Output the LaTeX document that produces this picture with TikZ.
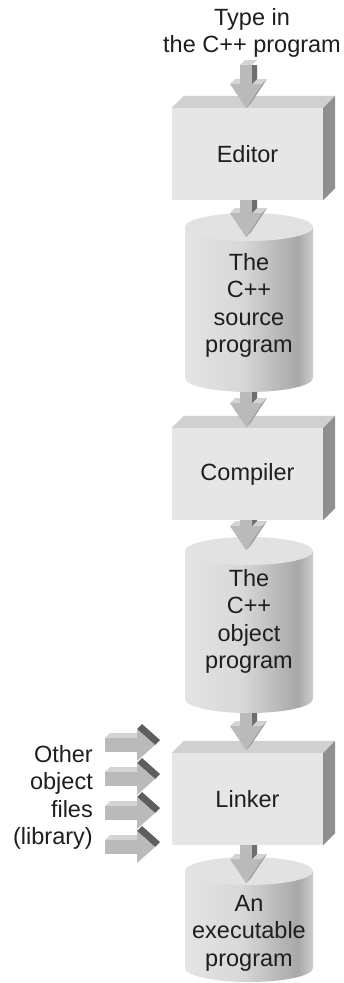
\documentclass[tikz,border=0pt]{standalone}
\usepackage{fontspec}
\setmainfont{Liberation Sans}
\usetikzlibrary{calc}
\definecolor{txt}{HTML}{1E1E1E}
\definecolor{frontc}{HTML}{E6E6E6}
\definecolor{topc}{HTML}{D0D0D0}
\definecolor{sidec}{HTML}{8F8F8F}
\definecolor{cylA}{HTML}{E4E4E4}
\definecolor{cylB}{HTML}{D8D8D8}
\definecolor{cylC}{HTML}{A8A8A8}
\definecolor{cylD}{HTML}{CDCDCD}
\definecolor{cyltopc}{HTML}{E2E2E2}
\definecolor{arrfrontc}{HTML}{BABABA}
\definecolor{arrtopc}{HTML}{D4D4D4}
\definecolor{arrsidec}{HTML}{6E6E6E}
\definecolor{arrmidc}{HTML}{9A9A9A}
\definecolor{arrdarkc}{HTML}{5E5E5E}
\pgfdeclarehorizontalshading{cylshade}{100bp}{color(0bp)=(cylA); color(25bp)=(cylA); color(47bp)=(cylB); color(69bp)=(cylC); color(75bp)=(cylD); color(100bp)=(cylD)}
\tikzset{
  lbl/.style={font=\fontsize{23.5}{27.5}\selectfont, text=txt, inner sep=0pt, align=center},
  boxfront/.style={lbl, fill=frontc, minimum width=151pt, minimum height=92pt},
  boxtop/.style={fill=topc},
  boxside/.style={fill=sidec},
  cylbody/.style={shading=cylshade},
  cyltop/.style={fill=cyltopc},
  arrfront/.style={fill=arrfrontc},
  arrtop/.style={fill=arrtopc},
  arrside/.style={fill=arrsidec},
  arrmid/.style={fill=arrmidc},
  arrdark/.style={fill=arrdarkc}
}
\newcommand{\boxfaces}[1]{%
  \fill[boxtop] (#1.north west) -- ++(12,12) -- ($(#1.north east)+(12,12)$) -- (#1.north east) -- cycle;
  \fill[boxside] (#1.north east) -- ++(12,12) -- ($(#1.south east)+(12,12)$) -- (#1.south east) -- cycle;}
\newcommand{\cylshape}[2]{% top centre y, bottom centre y (page px)
  \shade[cylbody] (185,-#1) -- (185,-#2) arc[start angle=180, end angle=360, x radius=64, y radius=14] -- (313,-#1) -- cycle;
  \fill[cyltop] (249,-#1) ellipse [x radius=64, y radius=14];}
\newcommand{\blockdown}[2]{% start, tip (same x)
  \fill[arrtop] ($(#2)+(-16,24)$) -- ($(#2)+(-11,29)$) -- ($(#2)+(21,29)$) -- ($(#2)+(16,24)$) -- cycle;
  \fill[arrmid] ($(#2)+(16,24)$) -- ($(#2)+(21,29)$) -- ($(#2)+(5,5)$) -- (#2) -- cycle;
  \fill[arrside] ($(#1)+(6,0)$) -- ($(#1)+(11,0)$) -- ($(#2)+(11,29)$) -- ($(#2)+(6,24)$) -- cycle;
  \fill[arrfront] ($(#1)+(-6,0)$) rectangle ($(#2)+(6,24)$);
  \fill[arrfront] ($(#2)+(-16,24)$) -- ($(#2)+(16,24)$) -- (#2) -- cycle;}
\newcommand{\blockright}[2]{% start, tip
  \fill[arrtop] ($(#1)+(0,7)$) -- ($(#1)+(5,12)$) -- ($(#2)+(-13,12)$) -- ($(#2)+(-18,7)$) -- cycle;
  \fill[arrdark] ($(#2)+(-18,16)$) -- ($(#2)+(-13,21)$) -- ($(#2)+(5,5)$) -- (#2) -- cycle;
  \fill[arrfront] ($(#1)+(0,-7)$) rectangle ($(#2)+(-18,7)$);
  \fill[arrfront] ($(#2)+(-18,16)$) -- (#2) -- ($(#2)+(-18,-16)$) -- cycle;}
\begin{document}
\begin{tikzpicture}[x=1pt,y=1pt]
\useasboundingbox (0,0) rectangle (344,-983);
% input text
\node[lbl, anchor=north] (input) at (252,-8) {Type in\\the C++ program};
\coordinate (a0s) at (246,-65);
\coordinate (a0t) at (246,-108);
% editor
\node[boxfront] (editor) at (247.5,-154) {Editor};
\boxfaces{editor}
\fill[arrtop] ($(a0s)+(-6,0)$) -- ($(a0s)+(-1,5)$) -- ($(a0s)+(11,5)$) -- ($(a0s)+(6,0)$) -- cycle;
\blockdown{a0s}{a0t}
% source cylinder
\cylshape{227}{378}
\node[lbl, anchor=north] (src) at (249,-253) {The\\C++\\source\\program};
\coordinate (a1s) at (editor.south -| a0s);
\coordinate (a1t) at (246,-237);
\blockdown{a1s}{a1t}
% compiler
\node[boxfront] (compiler) at (247.5,-474) {Compiler};
\boxfaces{compiler}
\coordinate (a2s) at (246,-392);
\coordinate (a2t) at (246,-427);
\blockdown{a2s}{a2t}
% object cylinder
\cylshape{551}{699}
\node[lbl, anchor=north] (obj) at (249,-569) {The\\C++\\object\\program};
\coordinate (a3s) at (compiler.south -| a0s);
\coordinate (a3t) at (246,-550);
\blockdown{a3s}{a3t}
% linker
\node[boxfront] (linker) at (247.5,-799) {Linker};
\boxfaces{linker}
\coordinate (a4s) at (246,-713);
\coordinate (a4t) at (246,-750);
\blockdown{a4s}{a4t}
% library inputs
\node[lbl, align=right, anchor=north east] (libs) at (93,-745) {Other\\object\\files\\(library)};
\foreach \i/\y in {1/745,2/779,3/813,4/847}{
  \coordinate (ls\i) at (105,-\y);
  \coordinate (lt\i) at (155,-\y);
  \blockright{ls\i}{lt\i}
}
% executable cylinder
\cylshape{871}{968}
\node[lbl, anchor=north] (exe) at (249,-895) {An\\executable\\program};
\coordinate (a5s) at (linker.south -| a0s);
\coordinate (a5t) at (246,-883);
\blockdown{a5s}{a5t}
\end{tikzpicture}
\end{document}
